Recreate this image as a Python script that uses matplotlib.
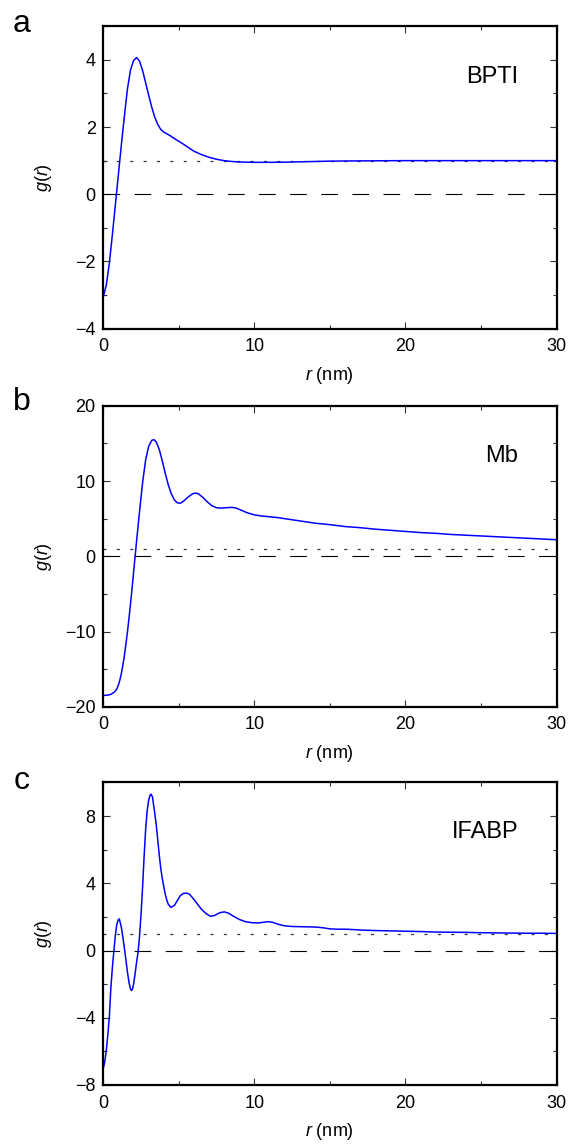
import matplotlib
matplotlib.use("Agg")
import matplotlib.pyplot as plt
from matplotlib.ticker import MultipleLocator

plt.rcParams['font.family'] = ['Liberation Sans', 'DejaVu Sans']
plt.rcParams['mathtext.fontset'] = 'custom'
plt.rcParams['mathtext.it'] = 'Liberation Sans:italic'
plt.rcParams['mathtext.rm'] = 'Liberation Sans'

# BPTI
r_bpti = [0.0, 0.2, 0.4, 0.6, 0.8, 1.0, 1.2, 1.4, 1.6, 1.8, 2.0, 2.2, 2.4, 2.6, 2.8,
          3.0, 3.2, 3.4, 3.6, 3.8, 4.0, 4.4, 4.8, 5.2, 5.6, 6.0, 6.5, 7.0, 7.5, 8.0,
          8.5, 9.0, 10.0, 11.0, 12.0, 13.0, 14.0, 15.0, 16.0, 18.0, 20.0, 25.0, 30.0]
g_bpti = [-3.05, -2.7, -2.05, -1.2, -0.3, 0.6, 1.5, 2.35, 3.15, 3.7, 3.98, 4.07, 3.96,
          3.68, 3.32, 2.95, 2.6, 2.3, 2.08, 1.93, 1.85, 1.75, 1.63, 1.52, 1.40, 1.28,
          1.18, 1.10, 1.04, 1.00, 0.975, 0.96, 0.95, 0.95, 0.955, 0.965, 0.975, 0.985,
          0.99, 0.995, 1.0, 1.0, 1.0]

# Mb
r_mb = [0.0, 0.3, 0.5, 0.7, 0.8, 0.9, 1.0, 1.1, 1.2, 1.3, 1.4, 1.5, 1.6, 1.7, 1.8,
        1.9, 2.0, 2.1, 2.2, 2.4, 2.6, 2.8, 3.0, 3.2, 3.35, 3.5, 3.7, 3.9, 4.1, 4.3,
        4.5, 4.7, 4.9, 5.1, 5.3, 5.6, 5.9, 6.1, 6.3, 6.6, 6.9, 7.2, 7.5, 7.8, 8.1,
        8.5, 8.8, 9.1, 9.5, 10.0, 10.5, 11.0, 11.5, 12.0, 13.0, 14.0, 15.0, 16.0,
        17.0, 18.0, 19.0, 20.0, 21.0, 22.0, 23.0, 24.0, 25.0, 26.0, 27.0, 28.0,
        29.0, 30.0]
g_mb = [-18.5, -18.45, -18.35, -18.1, -17.9, -17.6, -17.1, -16.4, -15.5, -14.4,
        -13.1, -11.6, -10.0, -8.2, -6.3, -4.3, -2.2, -0.1, 2.0, 6.0, 9.8, 12.8, 14.6,
        15.4, 15.5, 15.2, 14.2, 12.7, 11.0, 9.5, 8.3, 7.5, 7.1, 7.05, 7.3, 7.85, 8.3,
        8.4, 8.3, 7.8, 7.2, 6.7, 6.45, 6.4, 6.45, 6.5, 6.4, 6.15, 5.8, 5.5, 5.35,
        5.25, 5.15, 5.0, 4.7, 4.4, 4.2, 3.95, 3.8, 3.6, 3.45, 3.3, 3.15, 3.05, 2.9,
        2.8, 2.7, 2.6, 2.5, 2.4, 2.3, 2.2]

# IFABP
r_ifabp = [0.0, 0.1, 0.2, 0.3, 0.4, 0.5, 0.6, 0.7, 0.8, 0.9, 1.0, 1.06, 1.2, 1.3,
           1.4, 1.5, 1.6, 1.7, 1.8, 1.88, 1.95, 2.0, 2.1, 2.2, 2.3, 2.4, 2.5, 2.6,
           2.7, 2.8, 2.9, 3.0, 3.1, 3.16, 3.25, 3.4, 3.5, 3.6, 3.7, 3.8, 3.9, 4.0,
           4.1, 4.2, 4.3, 4.48, 4.7, 4.9, 5.1, 5.3, 5.5, 5.7, 5.9, 6.2, 6.5, 6.8,
           7.1, 7.4, 7.7, 8.0, 8.3, 8.6, 9.0, 9.4, 9.8, 10.2, 10.6, 10.9, 11.2,
           11.6, 12.0, 12.5, 13.0, 13.5, 14.0, 14.5, 15.0, 15.5, 16.0, 16.5, 17.0,
           18.0, 19.0, 20.0, 21.0, 22.0, 23.0, 24.0, 25.0, 26.0, 27.0, 28.0, 29.0,
           30.0]
g_ifabp = [-7.0, -6.6, -5.9, -5.0, -3.9, -2.2, -1.0, 0.0, 0.95, 1.6, 1.85, 1.88,
           1.35, 0.75, 0.1, -0.6, -1.3, -1.9, -2.3, -2.38, -2.25, -2.0, -1.4, -0.7,
           -0.1, 0.9, 2.2, 3.8, 5.6, 7.2, 8.3, 8.95, 9.25, 9.3, 9.15, 8.2, 7.5, 6.6,
           5.7, 4.9, 4.3, 3.8, 3.35, 3.0, 2.75, 2.57, 2.68, 2.98, 3.27, 3.4, 3.42,
           3.35, 3.15, 2.8, 2.45, 2.2, 2.03, 2.1, 2.25, 2.3, 2.22, 2.05, 1.85, 1.72,
           1.66, 1.64, 1.68, 1.72, 1.68, 1.56, 1.47, 1.43, 1.42, 1.41, 1.40, 1.36,
           1.29, 1.27, 1.27, 1.25, 1.22, 1.19, 1.17, 1.15, 1.13, 1.10, 1.09, 1.08,
           1.06, 1.05, 1.04, 1.03, 1.03, 1.02]

panels = [
    ('a', 'BPTI', r_bpti, g_bpti, (-4, 5), 2, 1, 0.7128, 0.2642, 24 / 1144, 77 / 1144),
    ('b', 'Mb', r_mb, g_mb, (-20, 20), 10, 5, 0.3822, 0.2631, 402 / 1144, 456 / 1144),
    ('c', 'IFABP', r_ifabp, g_ifabp, (-8, 10), 4, 2, 0.0516, 0.2644, 781 / 1144, 832 / 1144),
]

fig = plt.figure(figsize=(5.69, 11.44), dpi=100)

for letter, name, r, g, ylim, ymaj, ymin, bottom, height, ly, ny in panels:
    ax = fig.add_axes([0.1816, bottom, 0.7965, height])
    ax.axhline(0, color='black', lw=0.8, linestyle=(0, (15, 13)))
    ax.axhline(1, color='#333333', lw=0.9, linestyle=(0, (2.4, 8.3)))
    ax.plot(r, g, color='#0000ff', lw=1.1)
    ax.set_xlim(0, 30)
    ax.set_ylim(*ylim)
    ax.xaxis.set_major_locator(MultipleLocator(10))
    ax.xaxis.set_minor_locator(MultipleLocator(5))
    ax.yaxis.set_major_locator(MultipleLocator(ymaj))
    ax.yaxis.set_minor_locator(MultipleLocator(ymin))
    ax.tick_params(which='both', direction='in', top=True, right=True,
                   width=0.8, color='#333333', labelsize=13)
    ax.tick_params(which='major', length=5)
    ax.tick_params(which='minor', length=3)
    ax.tick_params(axis='x', pad=7)
    ax.tick_params(axis='y', pad=5.5)
    for sp in ax.spines.values():
        sp.set_linewidth(1.6)
    ax.set_xlabel(r'$r$ (nm)', fontsize=13)
    ax.xaxis.label.set_va('center')
    ax.xaxis.set_label_coords(0.5, -0.155)
    ax.set_ylabel(r'$g$($r$)', fontsize=13)
    ax.yaxis.label.set_va('center')
    ax.yaxis.set_label_coords(-0.131, 0.5)
    fig.text(518 / 569, 1 - ny, name, fontsize=17, ha='right', va='center')
    fig.text(22 / 569, 1 - ly, letter, fontsize=23, ha='center', va='center')

fig.savefig('out.png', dpi=100)
